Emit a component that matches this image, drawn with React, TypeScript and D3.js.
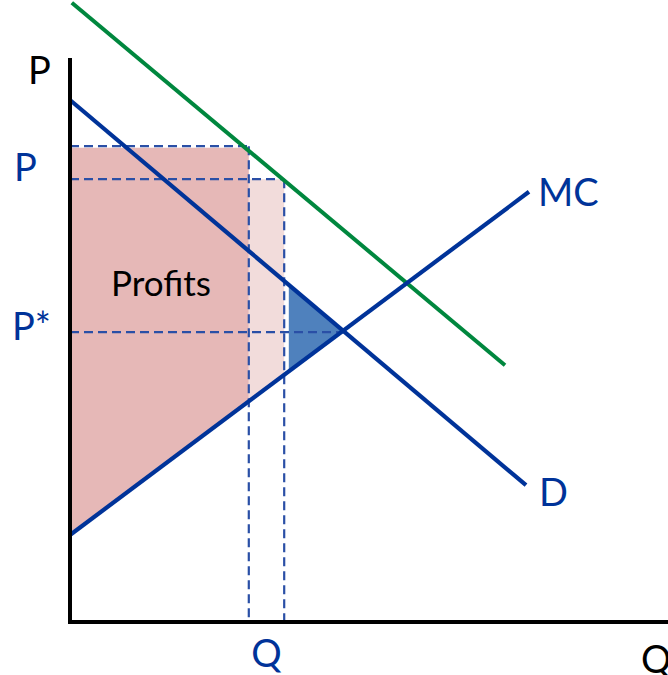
import React from "react";
import * as d3 from "d3";

// Data (in price/quantity units)
const demand: [number, number][] = [[0, 87], [76, 22.8]];
const marginalCost: [number, number][] = [[0, 14.5], [76.5, 71.7]];
const higherDemand: [number, number][] = [[0.3, 103.2], [72.5, 42.8]];
const quantities = [29.8, 35.7]; // Q levels (dashed verticals)
const prices = [79.3, 73.8]; // P levels (dashed horizontals)
const equilibrium: [number, number] = [45.8, 48.3];
const triangleQ = 36.3;
const axisLabels = { p: "P", q: "Q" };
const tickLabels = ["P", "P*", "Q"];
const curveLabels = ["MC", "D"];
const areaLabel = "Profits";

const W = 668, H = 675;
const x = d3.scaleLinear().domain([0, 100]).range([70, 670]);
const y = d3.scaleLinear().domain([0, 100]).range([622, 22]);

const lineAt = (pts: [number, number][], q: number) => {
  const [[x0, y0], [x1, y1]] = pts;
  return y0 + ((y1 - y0) * (q - x0)) / (x1 - x0);
};

const BLUE = "#003399";
const DASH = "#2a4fa6";
const FONT = "Lato, 'Open Sans', sans-serif";

export default function App() {
  const line = d3.line<[number, number]>().x(d => x(d[0])).y(d => y(d[1]));
  const [q1, q2] = quantities;
  const [p1, p2] = prices;
  const mc = (q: number) => lineAt(marginalCost, q);
  const dm = (q: number) => lineAt(demand, q);

  const darkPink: [number, number][] = [[0, p1], [q1, p1], [q1, mc(q1)], [0, mc(0)]];
  const lightPink: [number, number][] = [[q1, p2], [q2, p2], [q2, mc(q2)], [q1, mc(q1)]];
  const tri: [number, number][] = [[triangleQ, dm(triangleQ)], equilibrium, [triangleQ, mc(triangleQ)]];

  const poly = (pts: [number, number][]) => line(pts)! + "Z";

  return (
    <div style={{ position: "fixed", left: 0, top: 0 }}>
      <svg width={W} height={H} style={{ display: "block", background: "#fff" }}>
        <path d={poly(darkPink)} fill="#e6b8b7" transform="translate(0,1.5)" />
        <path d={poly(lightPink)} fill="#f2dcdb" />
        <path d={poly(tri)} fill="#4f81bd" stroke="#fff" strokeWidth={2} />

        {/* dashed guides */}
        <g stroke={DASH} strokeWidth={2.2} strokeDasharray="9,5" fill="none">
          <line x1={x(0)} x2={x(q1) + 2} y1={y(p1)} y2={y(p1)} />
          <line x1={x(0)} x2={x(q2)} y1={y(p2)} y2={y(p2)} />
          <line x1={x(0)} x2={x(equilibrium[0])} y1={y(equilibrium[1])} y2={y(equilibrium[1])} />
          <line x1={x(q1)} x2={x(q1)} y1={y(p1)} y2={y(0)} />
          <line x1={x(q2)} x2={x(q2)} y1={y(p2)} y2={y(0)} />
        </g>

        <path d={line(higherDemand)!} stroke="#00873e" strokeWidth={4} fill="none" />
        <path d={line(demand)!} stroke={BLUE} strokeWidth={4.2} fill="none" />
        <path d={line(marginalCost)!} stroke={BLUE} strokeWidth={4.2} fill="none" />

        {/* axes */}
        <line x1={x(0)} x2={x(0)} y1={58} y2={y(0) + 2} stroke="#000" strokeWidth={4} />
        <line x1={x(0) - 2} x2={W} y1={y(0)} y2={y(0)} stroke="#000" strokeWidth={4} />

        <g fontFamily={FONT} fontSize={38}>
          <text x={28} y={84} fill="#000">{axisLabels.p}</text>
          <text x={641} y={673} fill="#000">{axisLabels.q}</text>
          <text x={14} y={181} fill={BLUE}>{tickLabels[0]}</text>
          <text x={12} y={340} fill={BLUE}>{tickLabels[1]}</text>
          <text x={x((q1 + q2) / 2)} y={667} fill={BLUE} textAnchor="middle">{tickLabels[2]}</text>
          <text x={538} y={206} fill={BLUE}>{curveLabels[0]}</text>
          <text x={539} y={506} fill={BLUE}>{curveLabels[1]}</text>
          <text x={161} y={296} fill="#000" fontSize={35} textAnchor="middle">{areaLabel}</text>
        </g>
      </svg>
    </div>
  );
}
